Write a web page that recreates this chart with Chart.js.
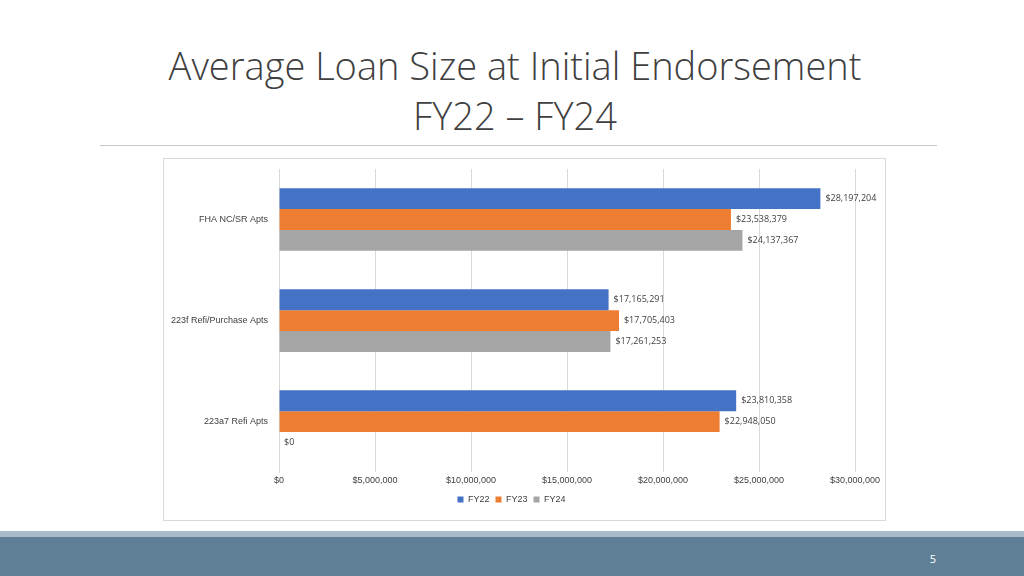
<!DOCTYPE html>
<html lang="en">
<head>
  <meta charset="UTF-8">
  <title>Average Loan Size at Initial Endorsement</title>
  <script src="https://cdn.jsdelivr.net/npm/chart.js"></script>
  <style>
    body { margin: 0; width: 1024px; height: 576px; background: #fff; position: relative; overflow: hidden; font-family: "Open Sans", sans-serif; }
    .title { position: absolute; top: 40px; left: 0; width: 1030px; text-align: center; font-size: 38px; line-height: 50px; color: #404040; font-weight: 300; }
    .rule { position: absolute; top: 145px; left: 100px; width: 837px; height: 1px; background: #c8c8c8; }
    .box { position: absolute; left: 163px; top: 158px; width: 721px; height: 361px; border: 1px solid #d9d9d9; }
    .band1 { position: absolute; left: 0; top: 531px; width: 1024px; height: 6px; background: #a9bccb; }
    .band2 { position: absolute; left: 0; top: 537px; width: 1024px; height: 39px; background: #5f7f96; }
    .pg { position: absolute; right: 88px; top: 551px; color: #fff; font-size: 11px; }
  </style>
</head>
<body>
  <div class="title">Average Loan Size at Initial Endorsement<br>FY22 – FY24</div>
  <div class="rule"></div>
  <div class="box"><canvas id="chart" width="721" height="361"></canvas></div>
  <div class="band1"></div>
  <div class="band2"></div>
  <div class="pg">5</div>

  <script>
    // chart values
    const categories = ['FHA NC/SR Apts', '223f Refi/Purchase Apts', '223a7 Refi Apts'];
    const fy22 = [28197204, 17165291, 23810358];
    const fy23 = [23538379, 17705403, 22948050];
    const fy24 = [24137367, 17261253, 0];

    const money = v => '$' + v.toLocaleString('en-US');

    // draws value labels right of each bar
    const valueLabels = {
      id: 'valueLabels',
      afterDatasetsDraw(chart) {
        const ctx = chart.ctx;
        ctx.save();
        ctx.font = '9px "Open Sans", sans-serif';
        ctx.fillStyle = '#404040';
        ctx.textBaseline = 'middle';
        chart.data.datasets.forEach((ds, i) => {
          chart.getDatasetMeta(i).data.forEach((bar, j) => {
            ctx.fillText(money(ds.data[j]), bar.x + 5, bar.y);
          });
        });
        ctx.restore();
      }
    };

    new Chart(document.getElementById('chart'), {
      type: 'bar',
      data: {
        labels: categories,
        datasets: [
          { label: 'FY22', data: fy22, backgroundColor: '#4472c4' },
          { label: 'FY23', data: fy23, backgroundColor: '#ed7d31' },
          { label: 'FY24', data: fy24, backgroundColor: '#a5a5a5' }
        ]
      },
      options: {
        indexAxis: 'y',
        responsive: false,
        animation: false,
        layout: { padding: { left: 4, right: 30, top: 10, bottom: 6 } },
        datasets: { bar: { categoryPercentage: 0.62, barPercentage: 1 } },
        scales: {
          x: {
            min: 0, max: 30000000,
            ticks: { stepSize: 5000000, color: '#404040', font: { size: 9 }, callback: v => money(v) },
            grid: { color: '#d9d9d9', drawTicks: false },
            border: { display: false }
          },
          y: {
            ticks: { color: '#404040', font: { size: 9 } },
            grid: { display: false },
            border: { color: '#d9d9d9' }
          }
        },
        plugins: {
          legend: {
            position: 'bottom',
            labels: { boxWidth: 6, boxHeight: 6, color: '#404040', font: { size: 9 }, padding: 6 }
          },
          tooltip: { enabled: false }
        }
      },
      plugins: [valueLabels]
    });
  </script>
</body>
</html>
